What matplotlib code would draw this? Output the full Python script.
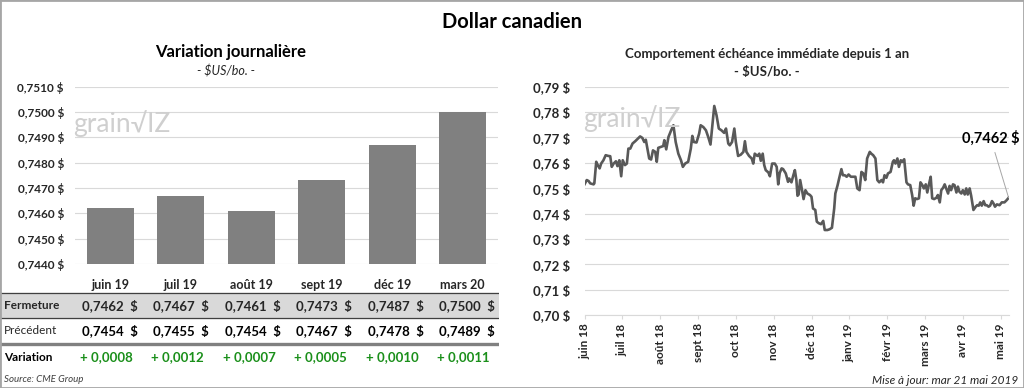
import matplotlib
matplotlib.use("Agg")
import matplotlib.pyplot as plt
from matplotlib.patches import Rectangle
from matplotlib.transforms import blended_transform_factory
import numpy as np

plt.rcParams['font.family'] = ['Lato', 'DejaVu Sans']
plt.rcParams['text.parse_math'] = False

# Left panel: closing prices by contract month
contracts = ["juin 19", "juil 19", "août 19", "sept 19", "déc 19", "mars 20"]
fermeture = [0.7462, 0.7467, 0.7461, 0.7473, 0.7487, 0.7500]
precedent = [0.7454, 0.7455, 0.7454, 0.7467, 0.7478, 0.7489]
variation = [0.0008, 0.0012, 0.0007, 0.0005, 0.0010, 0.0011]

# Right panel: nearby contract over one year
# position is in months since juin 18
months = ["juin 18", "juil 18", "août 18", "sept 18", "oct 18", "nov 18",
          "déc 18", "janv 19", "févr 19", "mars 19", "avr 19", "mai 19"]
hist_pos = [
    0.00, 0.06, 0.11, 0.15, 0.24, 0.26, 0.31, 0.35, 0.40, 0.44, 0.50, 0.56,
    0.63, 0.68, 0.72, 0.77, 0.83, 0.87, 0.92, 0.97, 1.01, 1.07, 1.12, 1.16,
    1.21, 1.27, 1.34, 1.41, 1.47, 1.53, 1.58, 1.62, 1.67, 1.71, 1.76, 1.81,
    1.87, 1.91, 1.95, 2.02, 2.08, 2.11, 2.16, 2.22, 2.29, 2.35, 2.41, 2.48,
    2.55, 2.60, 2.66, 2.74, 2.81, 2.85, 2.89, 2.96, 3.03, 3.07, 3.14, 3.21,
    3.27, 3.33, 3.38, 3.43, 3.49, 3.55, 3.62, 3.69, 3.74, 3.80, 3.84, 3.90,
    3.96, 4.00, 4.06, 4.13, 4.20, 4.24, 4.28, 4.35, 4.42, 4.46, 4.50, 4.57,
    4.62, 4.66, 4.71, 4.75, 4.79, 4.86, 4.90, 4.96, 5.03, 5.08, 5.12, 5.16,
    5.21, 5.25, 5.32, 5.38, 5.41, 5.47, 5.52, 5.56, 5.60, 5.63, 5.66, 5.70,
    5.75, 5.79, 5.84, 5.89, 5.96, 6.00, 6.04, 6.10, 6.14, 6.19, 6.25, 6.31,
    6.35, 6.42, 6.48, 6.54, 6.60, 6.63, 6.69, 6.73, 6.79, 6.83, 6.88, 6.93,
    6.98, 7.04, 7.10, 7.16, 7.21, 7.27, 7.32, 7.37, 7.42, 7.47, 7.54, 7.58,
    7.63, 7.69, 7.74, 7.79, 7.85, 7.89, 7.93, 7.98, 8.02, 8.09, 8.15, 8.18,
    8.22, 8.27, 8.31, 8.36, 8.40, 8.45, 8.51, 8.55, 8.61, 8.66, 8.70, 8.74,
    8.79, 8.84, 8.88, 8.93, 8.97, 9.02, 9.06, 9.10, 9.15, 9.19, 9.24, 9.30,
    9.34, 9.39, 9.43, 9.48, 9.52, 9.56, 9.61, 9.65, 9.69, 9.74, 9.78, 9.83,
    9.87, 9.91, 9.96, 10.00, 10.05, 10.09, 10.13, 10.18, 10.22, 10.28, 10.34,
    10.38, 10.42, 10.46, 10.50, 10.55, 10.59, 10.63, 10.68, 10.72, 10.77,
    10.81, 10.85, 10.90, 10.97, 11.03, 11.10, 11.16, 11.21,
]
hist_val = [
    0.7515, 0.7532, 0.7528, 0.7519, 0.7515, 0.7519, 0.7604, 0.7591, 0.7578,
    0.7597, 0.7610, 0.7630, 0.7627, 0.7626, 0.7584, 0.7597, 0.7606, 0.7587,
    0.7610, 0.7547, 0.7610, 0.7591, 0.7597, 0.7656, 0.7656, 0.7676, 0.7685,
    0.7695, 0.7704, 0.7698, 0.7682, 0.7691, 0.7649, 0.7617, 0.7613, 0.7649,
    0.7643, 0.7604, 0.7659, 0.7663, 0.7666, 0.7689, 0.7653, 0.7702, 0.7728,
    0.7748, 0.7682, 0.7636, 0.7610, 0.7584, 0.7597, 0.7604, 0.7656, 0.7706,
    0.7682, 0.7680, 0.7715, 0.7748, 0.7741, 0.7728, 0.7702, 0.7672, 0.7748,
    0.7824, 0.7787, 0.7735, 0.7728, 0.7718, 0.7735, 0.7676, 0.7669, 0.7682,
    0.7735, 0.7682, 0.7627, 0.7632, 0.7643, 0.7685, 0.7643, 0.7627, 0.7617,
    0.7597, 0.7636, 0.7627, 0.7636, 0.7608, 0.7636, 0.7591, 0.7571, 0.7562,
    0.7547, 0.7597, 0.7597, 0.7584, 0.7515, 0.7560, 0.7578, 0.7575, 0.7558,
    0.7525, 0.7538, 0.7523, 0.7551, 0.7571, 0.7532, 0.7470, 0.7475, 0.7532,
    0.7492, 0.7457, 0.7492, 0.7479, 0.7473, 0.7466, 0.7420, 0.7414, 0.7368,
    0.7362, 0.7358, 0.7371, 0.7335, 0.7335, 0.7338, 0.7344, 0.7420, 0.7479,
    0.7512, 0.7538, 0.7575, 0.7551, 0.7551, 0.7545, 0.7554, 0.7545, 0.7545,
    0.7545, 0.7499, 0.7492, 0.7564, 0.7558, 0.7532, 0.7617, 0.7643, 0.7636,
    0.7630, 0.7617, 0.7532, 0.7523, 0.7532, 0.7523, 0.7551, 0.7541, 0.7558,
    0.7564, 0.7604, 0.7610, 0.7597, 0.7617, 0.7584, 0.7610, 0.7604, 0.7614,
    0.7523, 0.7515, 0.7512, 0.7473, 0.7431, 0.7460, 0.7457, 0.7460, 0.7523,
    0.7512, 0.7499, 0.7515, 0.7483, 0.7512, 0.7545, 0.7460, 0.7457, 0.7462,
    0.7473, 0.7444, 0.7492, 0.7502, 0.7515, 0.7499, 0.7479, 0.7509, 0.7492,
    0.7515, 0.7512, 0.7483, 0.7506, 0.7486, 0.7479, 0.7492, 0.7475, 0.7499,
    0.7475, 0.7499, 0.7470, 0.7414, 0.7427, 0.7433, 0.7431, 0.7444, 0.7431,
    0.7449, 0.7433, 0.7433, 0.7427, 0.7431, 0.7449, 0.7440, 0.7427, 0.7436,
    0.7433, 0.7444, 0.7444, 0.7453, 0.7462,
]

W, H = 1024, 388
GRID = '#d9d9d9'
TXT = '#262626'


def fx(x):
    return x / W


def fy(y):
    return 1 - y / H


def fr(v, nd):
    return f"{v:.{nd}f}".replace('.', ',')


fig = plt.figure(figsize=(W / 100, H / 100), dpi=100)
fig.patch.set_facecolor('white')

fig.text(fx(512), fy(22), "Dollar canadien", ha='center', va='center',
         fontsize=14.5, weight='bold', color='black')

# ---- left: bars ----
fig.text(fx(231), fy(52), "Variation journalière", ha='center', va='center',
         fontsize=12, weight='bold', color='black')
fig.text(fx(226), fy(71), "- $US/bo. -", ha='center', va='center',
         fontsize=9, style='italic', color=TXT)

ax1 = fig.add_axes([fx(75), fy(264), fx(498) - fx(75), fy(86.7) - fy(264)])
ax1.bar(range(len(contracts)), fermeture, width=0.66, color='#808080', zorder=3)
ax1.set_xlim(-0.5, len(contracts) - 0.5)
ax1.set_ylim(0.7440, 0.7510)
ax1.set_yticks(np.arange(0.7440, 0.75101, 0.001))
ax1.set_yticklabels([fr(v, 4) + " $" for v in ax1.get_yticks()])
ax1.set_xticks(range(len(contracts)))
ax1.set_xticklabels(contracts)
ax1.tick_params(axis='both', length=0, colors=TXT, labelsize=9)
ax1.tick_params(axis='y', pad=8, labelsize=8.5)
ax1.tick_params(axis='x', pad=10.5)
for lab in ax1.get_xticklabels() + ax1.get_yticklabels():
    lab.set_fontweight('bold')
ax1.grid(axis='y', color=GRID, lw=0.8, zorder=0)
for s in ax1.spines.values():
    s.set_visible(False)

# ---- left: table ----
tab = fig.add_axes([0, 0, fx(499), 108 / H])
tab.set_xlim(-1.54, 5.45)
tab.set_ylim(388, 280)
tab.axis('off')
lab_tr = blended_transform_factory(tab.transAxes, tab.transData)
tab.axhspan(293.3, 318.3, color=GRID, zorder=0)
tab.axhline(293.3, color='#404040', lw=0.9)
tab.axhline(318.3, color='#404040', lw=0.9)
tab.axhline(343.5, color='#808080', lw=2.4)

tab.text(0.008, 305.8, "Fermeture", transform=lab_tr, va='center',
         fontsize=8.5, weight='bold', color=TXT)
tab.text(0.008, 331, "Précédent", transform=lab_tr, va='center',
         fontsize=8.5, color=TXT)
tab.text(0.008, 357.5, "Variation", transform=lab_tr, va='center',
         fontsize=8.5, weight='bold', color='black')
for i in range(len(contracts)):
    tab.text(i, 305.8, fr(fermeture[i], 4) + "  $", ha='center', va='center',
             fontsize=9.5, weight='bold', color=TXT)
    tab.text(i, 331, fr(precedent[i], 4) + "  $", ha='center', va='center',
             fontsize=9.5, weight='bold', color='black')
    tab.text(i - 0.05, 357.5, "+ " + fr(variation[i], 4), ha='center',
             va='center', fontsize=9.5, weight='bold', color='#1a8f1a')

fig.text(fx(4), fy(379.5), "Source: CME Group", va='center', fontsize=7,
         style='italic', color='#404040')

# ---- right: line ----
fig.text(fx(767), fy(54), "Comportement échéance immédiate depuis 1 an",
         ha='center', va='center', fontsize=9.5, weight='bold', color=TXT)
fig.text(fx(767), fy(72), "- $US/bo. -", ha='center', va='center',
         fontsize=9.5, weight='bold', color=TXT)

ax2 = fig.add_axes([fx(584.5), fy(315), fx(1009) - fx(584.5), fy(86.7) - fy(315)])
ax2.plot(hist_pos, hist_val, color='#595959', lw=1.9, solid_joinstyle='round',
         zorder=3)
ax2.set_xlim(0, 11.22)
ax2.set_ylim(0.70, 0.79)
ax2.set_yticks(np.arange(0.70, 0.7901, 0.01))
ax2.set_yticklabels([fr(v, 2) + " $" for v in ax2.get_yticks()])
ax2.set_xticks(range(len(months)))
ax2.set_xticklabels(months, rotation=90)
ax2.tick_params(axis='y', length=0, pad=10, labelsize=9.5, colors=TXT)
ax2.tick_params(axis='x', length=3, color=GRID, pad=3, labelsize=8.5,
                labelcolor=TXT)
for lab in ax2.get_xticklabels() + ax2.get_yticklabels():
    lab.set_fontweight('bold')
ax2.grid(axis='y', color=GRID, lw=0.8, zorder=0)
for k, s in ax2.spines.items():
    if k == 'bottom':
        s.set_color(GRID)
    else:
        s.set_visible(False)

ax2.annotate(fr(hist_val[-1], 4) + " $", xy=(hist_pos[-1], hist_val[-1]),
             xytext=(-13, 43), textcoords='offset points', ha='center',
             va='center', fontsize=10.5, weight='bold', color='black',
             annotation_clip=False,
             arrowprops=dict(arrowstyle='-', color='#a6a6a6', lw=0.7,
                             shrinkA=3, shrinkB=0))

fig.text(fx(1018), fy(380), "Mise à jour: mar 21 mai 2019", ha='right',
         va='center', fontsize=8.5, style='italic', color=TXT)

# watermark logos
for cx, cy in [(122, 124), (632, 119)]:
    fig.text(fx(cx), fy(cy), "grain\u221aIZ", ha='center', va='center',
             fontsize=19, color='#cfcfcf', zorder=0)

fig.add_artist(Rectangle((0, 0), 1, 1, transform=fig.transFigure, fill=False,
                         edgecolor='#a6a6a6', lw=2))

fig.savefig("out.png", dpi=100)
